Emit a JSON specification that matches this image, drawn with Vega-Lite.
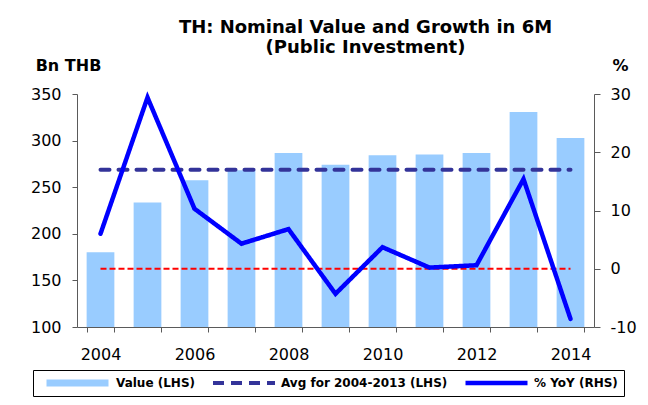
{
  "$schema": "https://vega.github.io/schema/vega-lite/v6.json",
  "width": 517,
  "height": 233,
  "autosize": {"type": "none"},
  "padding": {"left": 77, "top": 94, "right": 54, "bottom": 78},
  "background": "white",
  "config": {
    "font": "DejaVu Sans",
    "view": {"stroke": null},
    "axis": {
      "domainColor": "#5a5a5a",
      "tickColor": "#5a5a5a",
      "labelColor": "black",
      "labelFont": "DejaVu Sans",
      "labelFontSize": 16,
      "grid": false,
      "titleFont": "DejaVu Sans",
      "titleFontSize": 16,
      "titleFontWeight": "bold",
      "titleColor": "black"
    },
    "legend": {
      "orient": "none",
      "legendX": -44,
      "legendY": 276,
      "direction": "horizontal",
      "titleOrient": "left",
      "titleFontSize": 13,
      "titlePadding": 4,
      "symbolType": "M-1,0H1",
      "symbolSize": 3844,
      "symbolStrokeWidth": 4,
      "clipHeight": 14,
      "labelFont": "DejaVu Sans",
      "labelFontSize": 12,
      "labelFontWeight": "bold",
      "labelColor": "black",
      "labelOffset": 4,
      "labelLimit": 300,
      "columnPadding": 15,
      "padding": 6,
      "strokeColor": "black"
    }
  },
  "title": {
    "text": ["TH: Nominal Value and Growth in 6M", "(Public Investment)"],
    "font": "DejaVu Sans",
    "fontSize": 18,
    "fontWeight": "bold",
    "color": "black",
    "anchor": "middle",
    "dx": 30,
    "offset": 0,
    "lineHeight": 20
  },
  "data": {
    "values": [
      {"year": 2004, "value": 180.2, "avg": 268.8, "yoy": 6.0},
      {"year": 2005, "value": 233.5, "avg": 268.8, "yoy": 29.4},
      {"year": 2006, "value": 257.4, "avg": 268.8, "yoy": 10.3},
      {"year": 2007, "value": 268.1, "avg": 268.8, "yoy": 4.3},
      {"year": 2008, "value": 286.8, "avg": 268.8, "yoy": 6.8},
      {"year": 2009, "value": 274.2, "avg": 268.8, "yoy": -4.3},
      {"year": 2010, "value": 284.2, "avg": 268.8, "yoy": 3.7},
      {"year": 2011, "value": 285.0, "avg": 268.8, "yoy": 0.2},
      {"year": 2012, "value": 286.8, "avg": 268.8, "yoy": 0.6},
      {"year": 2013, "value": 330.7, "avg": 268.8, "yoy": 15.4},
      {"year": 2014, "value": 302.8, "avg": 268.8, "yoy": -8.6}
    ]
  },
  "encoding": {
    "x": {
      "field": "year",
      "type": "ordinal",
      "scale": {"paddingInner": 0.41, "paddingOuter": 0.205},
      "axis": {
        "title": null,
        "labelAngle": 0,
        "tickBand": "extent",
        "tickSize": 5,
        "labelPadding": 14,
        "labelExpr": "datum.value % 2 == 0 ? datum.label : ''"
      }
    }
  },
  "layer": [
    {
      "layer": [
        {
          "mark": {"type": "bar", "color": "#99ccff"},
          "encoding": {
            "y": {
              "field": "value",
              "type": "quantitative",
              "scale": {"domain": [100, 350], "nice": false, "zero": false},
              "axis": {
                "orient": "left",
                "values": [100, 150, 200, 250, 300, 350],
                "tickSize": 5,
                "labelPadding": 11,
                "title": "Bn THB",
                "titleAngle": 0,
                "titleAlign": "center",
                "titleBaseline": "alphabetic",
                "titleX": -9,
                "titleY": -24
              }
            },
            "y2": {"datum": 100}
          }
        },
        {
          "mark": {"type": "line", "color": "#333399", "strokeWidth": 4, "strokeDash": [9, 9], "strokeCap": "round"},
          "encoding": {
            "y": {"field": "avg", "type": "quantitative"}
          }
        }
      ]
    },
    {
      "layer": [
        {
          "mark": {"type": "line", "color": "#ff0000", "strokeWidth": 2, "strokeDash": [6, 3]},
          "encoding": {
            "y": {
              "datum": 0,
              "type": "quantitative",
              "scale": {"domain": [-10, 30], "nice": false, "zero": false},
              "axis": {
                "orient": "right",
                "values": [-10, 0, 10, 20, 30],
                "tickSize": 6,
                "labelPadding": 10,
                "labelExpr": "'' + datum.value",
                "title": "%",
                "titleAngle": 0,
                "titleAlign": "center",
                "titleBaseline": "alphabetic",
                "titleX": 26,
                "titleY": -24
              }
            }
          }
        },
        {
          "mark": {"type": "line", "strokeJoin": "miter", "strokeCap": "round"},
          "encoding": {
            "y": {"field": "yoy", "type": "quantitative"},
            "stroke": {
              "datum": "% YoY (RHS)",
              "type": "nominal",
              "scale": {
                "domain": ["Value (LHS)", "Avg for 2004-2013 (LHS)", "% YoY (RHS)"],
                "range": ["#99ccff", "#333399", "#0000ff"]
              },
              "legend": {"title": " "}
            },
            "strokeDash": {
              "datum": "% YoY (RHS)",
              "type": "nominal",
              "scale": {
                "domain": ["Value (LHS)", "Avg for 2004-2013 (LHS)", "% YoY (RHS)"],
                "range": [[1, 0], [11, 7], [1, 0]]
              },
              "legend": {"title": " "}
            },
            "strokeWidth": {
              "datum": "% YoY (RHS)",
              "type": "nominal",
              "scale": {
                "type": "ordinal",
                "domain": ["Value (LHS)", "Avg for 2004-2013 (LHS)", "% YoY (RHS)"],
                "range": [7, 4, 4.5]
              },
              "legend": {"title": " "}
            }
          }
        }
      ]
    }
  ],
  "resolve": {"scale": {"y": "independent"}}
}
